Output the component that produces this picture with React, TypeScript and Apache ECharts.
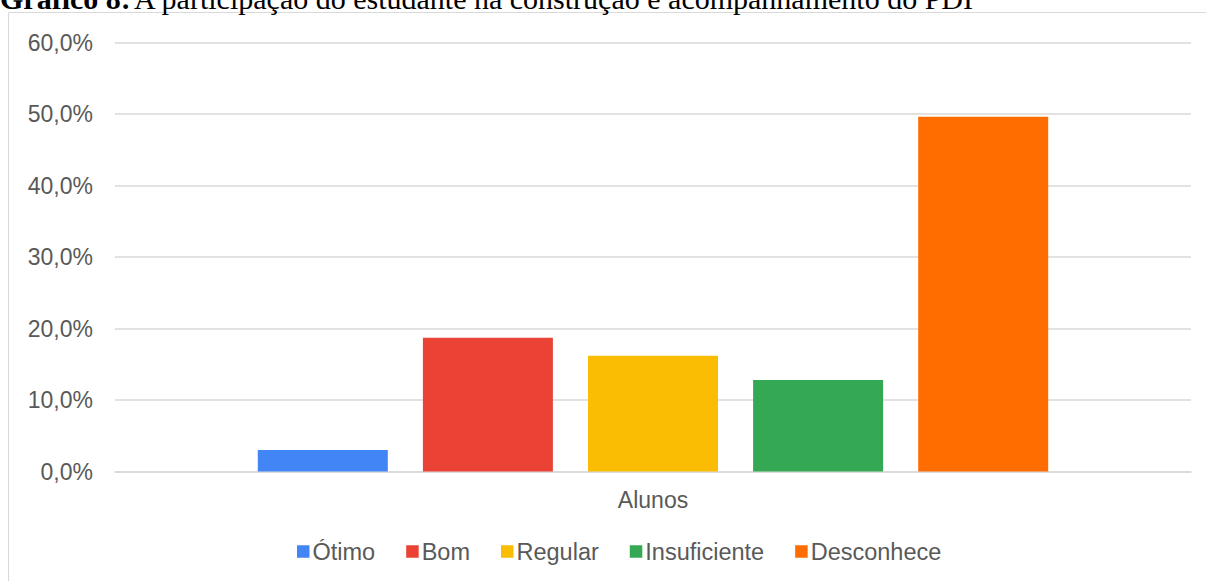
import React, { useEffect, useRef } from "react";
import * as echarts from "echarts";

const categories = ["Alunos"];
const seriesNames = ["Ótimo", "Bom", "Regular", "Insuficiente", "Desconhece"];
const seriesValues = [3.0, 18.7, 16.2, 12.8, 49.6];
const seriesColors = ["#4285F4", "#EA4335", "#FBBC04", "#34A853", "#FF6D01"];
const yTicks = [0, 10, 20, 30, 40, 50, 60];

export default function App() {
  const ref = useRef<HTMLDivElement>(null);
  useEffect(() => {
    if (!ref.current) return;
    const chart = echarts.init(ref.current, null, { renderer: "svg" });
    const textColor = "#595959";
    chart.setOption({
      animation: false,
      backgroundColor: "#ffffff",
      graphic: [
        {
          type: "rect",
          shape: { x: 8.5, y: 12.5, width: 1400, height: 800 },
          style: { fill: "none", stroke: "#d9d9d9", lineWidth: 1 },
          silent: true,
          z: -1,
        },
        {
          type: "text",
          x: 0,
          y: -2,
          style: {
            text: "{b|Gráfico 8:} {r|A participação do estudante na construção e acompanhamento do PDI}",
            verticalAlign: "middle",
            rich: {
              b: { fontFamily: "Liberation Serif", fontWeight: "bold", fontSize: 30, fill: "#000" },
              r: { fontFamily: "Liberation Serif", fontSize: 30, fill: "#000" },
            },
          },
        },
      ],
      grid: { left: 115, right: 15, top: 42.5, bottom: 109.5, containLabel: false },
      xAxis: {
        type: "category",
        data: categories,
        axisLine: { lineStyle: { color: "#d9d9d9", width: 1.5 } },
        axisTick: { show: false },
        axisLabel: { color: textColor, fontSize: 23, fontFamily: "Liberation Sans", margin: 17 },
      },
      yAxis: {
        type: "value",
        min: yTicks[0],
        max: yTicks[yTicks.length - 1],
        interval: 10,
        axisLine: { show: false },
        axisTick: { show: false },
        splitLine: { lineStyle: { color: "#d9d9d9", width: 1.5 } },
        axisLabel: {
          color: textColor,
          fontSize: 23,
          fontFamily: "Liberation Sans",
          margin: 22,
          formatter: (v: number) => v.toFixed(1).replace(".", ",") + "%",
        },
      },
      legend: {
        top: 539.5,
        left: 297,
        padding: 0,
        itemWidth: 12.5,
        itemHeight: 12.5,
        itemGap: 31,
        icon: "rect",
        textStyle: { color: textColor, fontSize: 23.5, fontFamily: "Liberation Sans", padding: [0, 0, 0, -2] },
        data: seriesNames,
      },
      series: seriesNames.map((name, i) => ({
        name,
        type: "bar",
        data: [seriesValues[i]],
        barWidth: 130,
        barGap: "27%",
        itemStyle: { color: seriesColors[i] },
      })),
    });
    return () => chart.dispose();
  }, []);
  return (
    <div
      ref={ref}
      style={{ position: "absolute", left: 0, top: 0, width: 1206, height: 581 }}
    />
  );
}
